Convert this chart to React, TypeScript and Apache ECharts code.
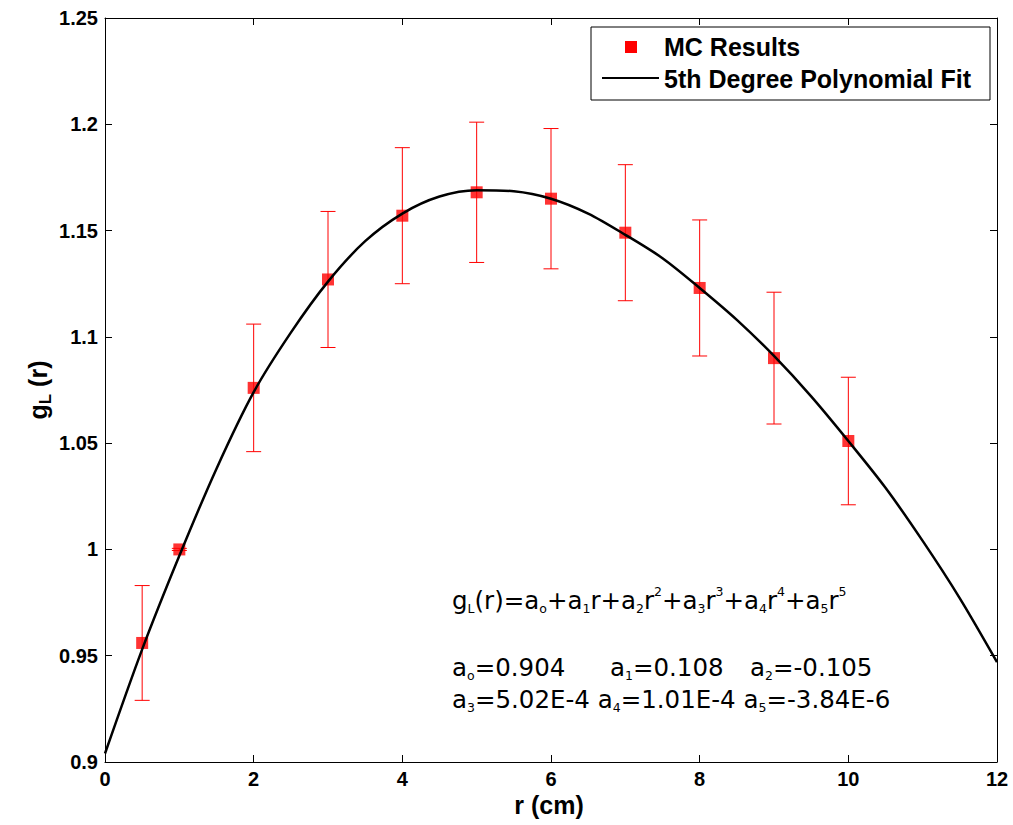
import React, { useEffect, useRef } from "react";
import * as echarts from "echarts";

// MC results
const rValues = [0.5, 1, 2, 3, 4, 5, 6, 7, 8, 9, 10];
const gValues = [0.956, 1.0, 1.076, 1.127, 1.157, 1.168, 1.165, 1.149, 1.123, 1.09, 1.051];
const errLow = [0.929, 0.9995, 1.046, 1.095, 1.125, 1.135, 1.132, 1.117, 1.091, 1.059, 1.021];
const errHigh = [0.983, 1.0005, 1.106, 1.159, 1.189, 1.201, 1.198, 1.181, 1.155, 1.121, 1.081];

// 5th degree polynomial fit
const fitR = [0, 0.5, 1, 1.5, 2, 2.5, 3, 3.5, 4, 4.5, 5, 5.5, 6, 6.5, 7, 7.5, 8, 8.5, 9, 9.5, 10, 10.5, 11, 11.5, 12];
const fitG = [0.904, 0.953, 0.997, 1.038, 1.074, 1.102, 1.126, 1.145, 1.158, 1.166, 1.169, 1.1685, 1.165, 1.158, 1.148, 1.137, 1.123, 1.108, 1.091, 1.072, 1.051, 1.029, 1.004, 0.977, 0.947];

const legendNames = ["MC Results", "5th Degree Polynomial Fit"];
const xTitle = "r (cm)";

const FONT = "'Liberation Sans', Arial, sans-serif";
const EQ_FONT = "'DejaVu Sans', Verdana, sans-serif";

const eqRich = {
  n: { fontFamily: EQ_FONT, fontSize: 24.5, lineHeight: 30, verticalAlign: "middle", fill: "#000" },
  s: { fontFamily: EQ_FONT, fontSize: 12.5, lineHeight: 13, verticalAlign: "bottom", fill: "#000" },
  p: { fontFamily: EQ_FONT, fontSize: 12.5, lineHeight: 16, verticalAlign: "top", fill: "#000" },
};

export default function App() {
  const ref = useRef<HTMLDivElement>(null);
  useEffect(() => {
    if (!ref.current) return;
    const chart = echarts.init(ref.current, null, { renderer: "svg" });
    const grid = { left: 105, right: 16, top: 18, bottom: 63 };
    const axisCommon = {
      axisLine: { onZero: false, lineStyle: { color: "#000", width: 1 } },
      axisTick: { inside: true, length: 7, lineStyle: { color: "#000" } },
      splitLine: { show: false },
    };
    chart.setOption({
      animation: false,
      backgroundColor: "#fff",
      grid,
      xAxis: [
        {
          type: "value", min: 0, max: 12, interval: 2, position: "bottom",
          ...axisCommon,
          axisLabel: { color: "#000", fontFamily: FONT, fontWeight: "bold", fontSize: 20, margin: 7 },
        },
        {
          type: "value", min: 0, max: 12, interval: 2, position: "top",
          ...axisCommon, axisLabel: { show: false },
        },
      ],
      yAxis: [
        {
          type: "value", min: 0.9, max: 1.25, interval: 0.05, position: "left",
          ...axisCommon,
          axisLabel: {
            color: "#000", fontFamily: FONT, fontWeight: "bold", fontSize: 20, margin: 7,
            formatter: (v: number) => String(+v.toFixed(2)),
          },
        },
        {
          type: "value", min: 0.9, max: 1.25, interval: 0.05, position: "right",
          ...axisCommon, axisLabel: { show: false },
        },
      ],
      series: [
        {
          type: "custom",
          name: "errors",
          z: 2,
          data: rValues.map((r, i) => [r, errLow[i], errHigh[i]]),
          renderItem: (params: any, api: any) => {
            const lo = api.coord([api.value(0), api.value(1)]);
            const hi = api.coord([api.value(0), api.value(2)]);
            const w = 7.5;
            const style = { stroke: "#ff0000", lineWidth: 1, fill: null };
            return {
              type: "group",
              children: [
                { type: "line", shape: { x1: lo[0], y1: lo[1], x2: hi[0], y2: hi[1] }, style },
                { type: "line", shape: { x1: lo[0] - w, y1: lo[1], x2: lo[0] + w, y2: lo[1] }, style },
                { type: "line", shape: { x1: hi[0] - w, y1: hi[1], x2: hi[0] + w, y2: hi[1] }, style },
              ],
            };
          },
        },
        {
          type: "scatter",
          name: legendNames[0],
          z: 3,
          symbol: "rect",
          symbolSize: 12,
          itemStyle: { color: "#ff0000" },
          data: rValues.map((r, i) => [r, gValues[i]]),
        },
        {
          type: "line",
          name: legendNames[1],
          z: 4,
          smooth: 0.3,
          showSymbol: false,
          lineStyle: { color: "#000", width: 2.5 },
          data: fitR.map((r, i) => [r, fitG[i]]),
        },
      ],
      graphic: [
        // legend box
        { type: "rect", shape: { x: 591, y: 27, width: 399, height: 73 }, style: { fill: "#fff", stroke: "#000", lineWidth: 1 }, z: 10 },
        { type: "rect", shape: { x: 625, y: 41, width: 12, height: 12 }, style: { fill: "#ff0000" }, z: 11 },
        { type: "line", shape: { x1: 602, y1: 78, x2: 659, y2: 78 }, style: { stroke: "#000", lineWidth: 2 }, z: 11 },
        { type: "text", x: 664, y: 47, style: { text: legendNames[0], font: `bold 25px ${FONT}`, fill: "#000", textVerticalAlign: "middle" }, z: 11 },
        { type: "text", x: 664, y: 79, style: { text: legendNames[1], font: `bold 25px ${FONT}`, fill: "#000", textVerticalAlign: "middle" }, z: 11 },
        // axis titles
        { type: "text", x: 549, y: 805, style: { text: xTitle, font: `bold 25px ${FONT}`, fill: "#000", textAlign: "center", textVerticalAlign: "middle" } },
        {
          type: "text", x: 38, y: 390, rotation: Math.PI / 2,
          style: {
            text: "{n|g}{s|L}{n| (r)}", textAlign: "center", textVerticalAlign: "middle",
            rich: {
              n: { fontFamily: FONT, fontWeight: "bold", fontSize: 25, lineHeight: 32, verticalAlign: "middle", fill: "#000" },
              s: { fontFamily: FONT, fontWeight: "bold", fontSize: 17, lineHeight: 17, verticalAlign: "bottom", fill: "#000" },
            },
          },
        },
        // equation
        {
          type: "text", x: 452, y: 600,
          style: {
            text: "{n|g}{s|L}{n|(r)=a}{s|o}{n|+a}{s|1}{n|r+a}{s|2}{n|r}{p|2}{n|+a}{s|3}{n|r}{p|3}{n|+a}{s|4}{n|r}{p|4}{n|+a}{s|5}{n|r}{p|5}",
            textVerticalAlign: "middle", rich: eqRich,
          },
        },
        { type: "text", x: 452, y: 667, style: { text: "{n|a}{s|o}{n|=0.904}", textVerticalAlign: "middle", rich: eqRich } },
        { type: "text", x: 610, y: 667, style: { text: "{n|a}{s|1}{n|=0.108}", textVerticalAlign: "middle", rich: eqRich } },
        { type: "text", x: 750, y: 667, style: { text: "{n|a}{s|2}{n|=-0.105}", textVerticalAlign: "middle", rich: eqRich } },
        {
          type: "text", x: 452, y: 699,
          style: {
            text: "{n|a}{s|3}{n|=5.02E-4 a}{s|4}{n|=1.01E-4 a}{s|5}{n|=-3.84E-6}",
            textVerticalAlign: "middle", rich: eqRich,
          },
        },
      ],
    });
    return () => chart.dispose();
  }, []);
  return <div ref={ref} style={{ width: 1013, height: 825, position: "absolute", left: 0, top: 0 }} />;
}
